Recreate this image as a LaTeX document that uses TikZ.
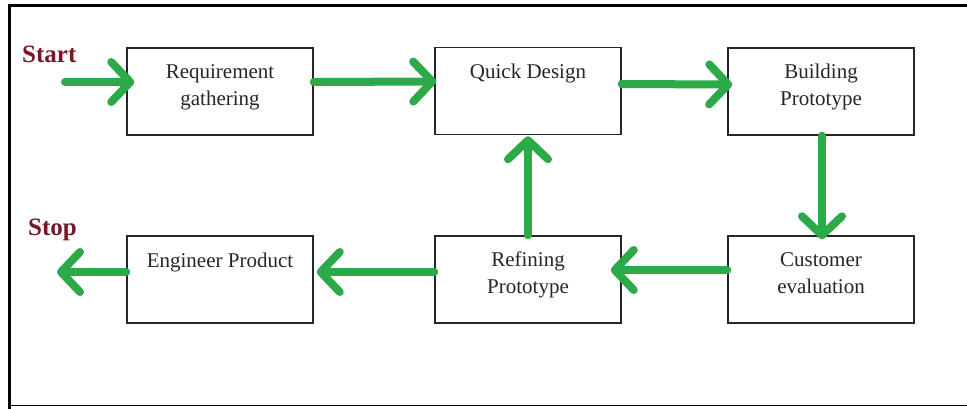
\documentclass[tikz,border=0pt]{standalone}
\usepackage{fontspec}
\setmainfont{Liberation Serif}
\usetikzlibrary{arrows.meta}
\definecolor{flowgreen}{RGB}{44,170,74}
\definecolor{labelred}{RGB}{122,22,40}
\tikzset{
  box/.style={draw=black!85, line width=1.5pt, minimum width=186pt, minimum height=87pt, inner sep=0pt, fill=white},
  boxtext/.style={anchor=base, align=center, font=\fontsize{21}{27}\selectfont, inner sep=0pt, text=black!85},
  flow/.style={draw=flowgreen, line width=8pt, line cap=round,
    -{Straight Barb[length=19pt, width=40pt, line cap=round, line join=round]}},
  endlabel/.style={anchor=base west, inner sep=0pt, text=labelred, font=\fontsize{25}{30}\selectfont\bfseries}
}
\begin{document}
\begin{tikzpicture}[x=1pt,y=-1pt]
\useasboundingbox (0,0) rectangle (967,409);
% frame
\draw[line width=3.5pt] (9.5,409) -- (9.5,5.5) -- (967,5.5);
\draw[line width=1.5pt] (8,405.5) -- (967,405.5);
% boxes
\node[box] (b1) at (220,91.5) {};
\node[box] (b2) at (528,91) {};
\node[box] (b3) at (821,91.5) {};
\node[box] (b4) at (220,279.5) {};
\node[box] (b5) at (528,279.5) {};
\node[box] (b6) at (821,279.5) {};
% texts (multi-line nodes: anchor on the baseline of the last line)
\node[boxtext] (t1) at (220,106) {Requirement\\gathering};
\node[boxtext] (t2) at (528,79) {Quick Design};
\node[boxtext] (t3) at (821,106) {Building\\Prototype};
\node[boxtext] (t4) at (220,267) {Engineer Product};
\node[boxtext] (t5) at (528,293) {Refining\\Prototype};
\node[boxtext] (t6) at (821,293) {Customer\\evaluation};
% end labels
\node[endlabel] (start) at (22,63) {Start};
\node[endlabel] (stop) at (28,235) {Stop};
% arrows
\coordinate (sIn) at (65,82);
\coordinate (sOut) at (57,272);
\draw[flow, shorten >=-8pt] (sIn) -- (b1.west |- sIn);
\draw[flow, shorten >=-2pt] ([yshift=9.5pt]b1.east) -- ([yshift=9.5pt]b2.west);
\draw[flow, shorten >=-5pt] ([yshift=7pt]b2.east) -- ([yshift=7pt]b3.west);
\draw[flow, shorten >=-4pt] ([xshift=1pt]b3.south) -- ([xshift=1pt]b6.north);
\draw[flow, shorten >=-11pt] ([yshift=9.5pt]b6.west) -- ([yshift=9.5pt]b5.east);
\draw[flow, shorten >=1pt] (b5.north) -- (b2.south);
\draw[flow, shorten >=3pt] ([yshift=7.5pt]b5.west) -- ([yshift=7.5pt]b4.east);
\draw[flow] ([yshift=7.5pt]b4.west) -- (sOut);
\end{tikzpicture}
\end{document}
